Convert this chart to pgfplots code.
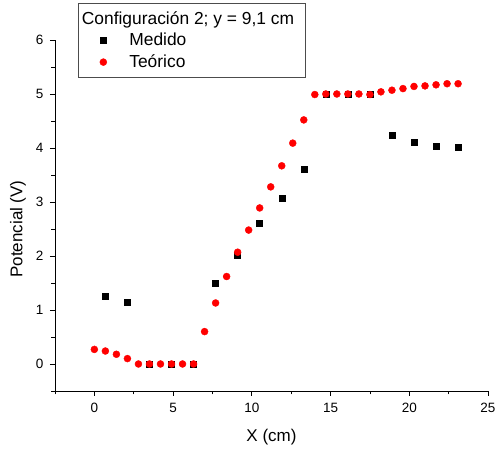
\documentclass[border=0pt]{standalone}
\usepackage{pgfplots}
\pgfplotsset{compat=1.18}
\usepackage{fontspec}
\setmainfont{Liberation Sans}
\usetikzlibrary{calc}
\pgfplotsset{mylegimg/.style={legend image code/.code={\path[draw=none,fill=none] (0pt,0pt) -- (46pt,0pt);\draw[mark repeat=2,mark phase=2,##1,only marks] plot coordinates {(0pt,0pt)(22pt,0pt)(44pt,0pt)};}}}
\begin{document}
\begin{tikzpicture}
\begin{axis}[name=ax, scale only axis, width=433pt, height=351pt,
 xmin=-2.5, xmax=25, ymin=-0.5, ymax=6,
 axis x line*=bottom, axis y line*=left,
 axis line style={line width=0.8pt, -},
 xtick={0,5,...,25}, ytick={0,1,...,6},
 minor xtick={-2.5,2.5,...,22.5}, minor ytick={-0.5,0.5,...,5.5},
 tick align=outside, major tick length=5pt, minor tick length=3.5pt,
 every tick/.style={line width=0.8pt, black},
 /pgf/number format/assume math mode=true,
 ticklabel style={font=\fontsize{13.5}{15}\selectfont},
 xticklabel style={yshift=-4pt},
 yticklabel style={xshift=-3pt},
 label style={font=\fontsize{17}{19}\selectfont},
 xlabel={X (cm)}, ylabel={Potencial (V)},
 xlabel style={at={(axis description cs:0.5,-0.131)}, anchor=center},
 ylabel style={at={(axis description cs:-0.0855,0.4615)}, anchor=center},
 clip=false,
 legend style={at={(axis description cs:0.053,1.105)}, anchor=north west, draw=black!70, line width=0.8pt, font=\fontsize{17.4}{19}\selectfont, inner xsep=3pt, inner ysep=6pt, row sep=3.5pt},
 legend cell align=left,
]
\addlegendimage{empty legend}
\addlegendentry{\hspace*{-47.5pt}Configuración 2; y = 9,1 cm\hspace*{6pt}}
\addplot[only marks, mark=square*, mark size=3pt, black, line width=0.4pt, mylegimg] coordinates {
(0.7,1.25) (2.1,1.14) (3.5,0) (4.9,0) (6.3,0) (7.7,1.5) (9.1,2.02) (10.5,2.6) (11.9,3.07) (13.3,3.6) (14.7,5.0) (16.1,5.0) (17.5,5.0) (18.9,4.23) (20.3,4.11) (21.7,4.04) (23.1,4.01)
};
\addlegendentry{Medido}
\addplot[only marks, mark=*, mark size=3.5pt, red, mark options={draw=red, fill=red}, line width=0.4pt, mylegimg] coordinates {
(0,0.27) (0.7,0.24) (1.4,0.18) (2.1,0.10) (2.8,0) (3.5,0) (4.2,0) (4.9,0) (5.6,0) (6.3,0) (7.0,0.60) (7.7,1.13) (8.4,1.62) (9.1,2.07) (9.8,2.48) (10.5,2.89) (11.2,3.28) (11.9,3.67) (12.6,4.09) (13.3,4.52) (14.0,4.99) (14.7,5.0) (15.4,5.0) (16.1,5.0) (16.8,5.0) (17.5,4.99) (18.2,5.04) (18.9,5.07) (19.6,5.10) (20.3,5.14) (21.0,5.15) (21.7,5.17) (22.4,5.19) (23.1,5.19)
};
\addlegendentry{Teórico}
\end{axis}
\pgfresetboundingbox
\path[use as bounding box] ($(ax.south west)+(-55pt,-62pt)$) rectangle ($(ax.north east)+(9pt,40pt)$);
\end{tikzpicture}
\end{document}
